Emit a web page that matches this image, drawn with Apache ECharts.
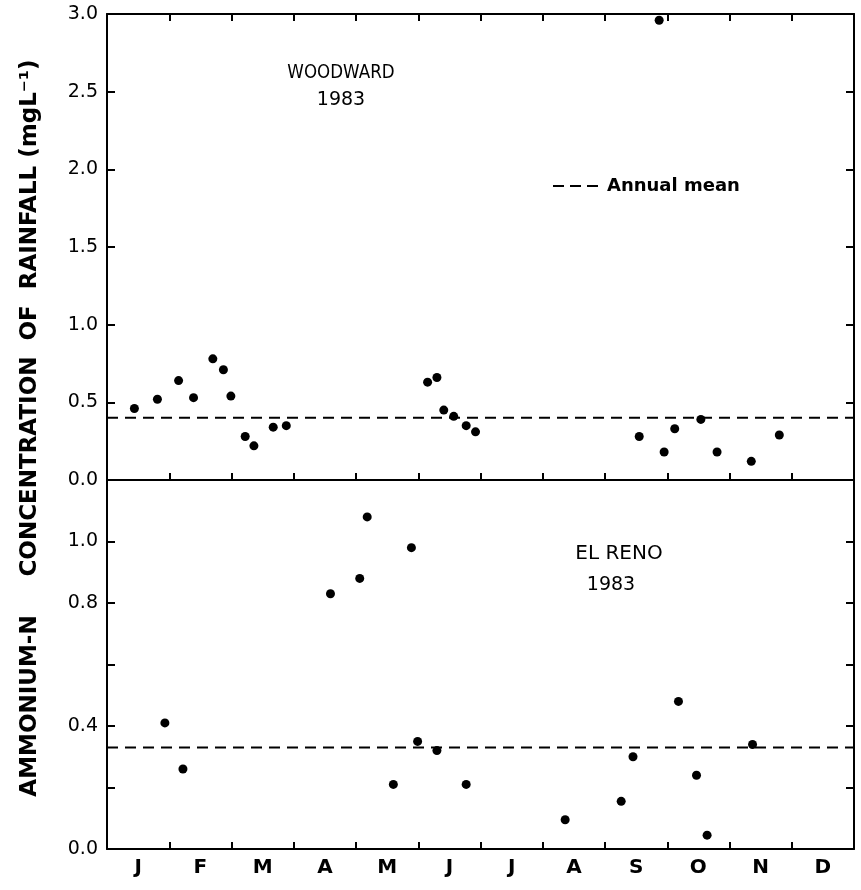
<!DOCTYPE html>
<html>
<head>
<meta charset="utf-8">
<script src="https://cdn.jsdelivr.net/npm/echarts@6/dist/echarts.min.js"></script>
<style>html,body{margin:0;padding:0;background:#fff}#c{width:861px;height:890px}</style>
</head>
<body>
<div id="c"></div>
<script>
// Month labels (x axis)
var months = ['J','F','M','A','M','J','J','A','S','O','N','D'];

// Woodward 1983 (x in months from Jan 1, y in mg/L)
var woodwardX = [0.44,0.81,1.15,1.39,1.70,1.87,1.99,2.22,2.36,2.67,2.88,5.15,5.30,5.41,5.57,5.77,5.92,8.55,8.87,8.95,9.12,9.54,9.80,10.35,10.80];
var woodwardY = [0.46,0.52,0.64,0.53,0.78,0.71,0.54,0.28,0.22,0.34,0.35,0.63,0.66,0.45,0.41,0.35,0.31,0.28,2.96,0.18,0.33,0.39,0.18,0.12,0.29];
var woodwardMean = 0.40;

// El Reno 1983
var elRenoX = [0.93,1.22,3.59,4.06,4.18,4.60,4.89,4.99,5.30,5.77,7.36,8.26,8.45,9.18,9.47,9.64,10.37];
var elRenoY = [0.41,0.26,0.83,0.88,1.08,0.21,0.98,0.35,0.32,0.21,0.095,0.155,0.30,0.48,0.24,0.045,0.34];
var elRenoMean = 0.33;

// Tick labels
var topTicks = ['0.0','0.5','1.0','1.5','2.0','2.5','3.0'];
var bottomTicks = {'0':'0.0','0.4':'0.4','0.8':'0.8','1':'1.0'};

function pairs(xs, ys){ return xs.map(function(x,i){ return [x, ys[i]]; }); }

var FONT = 'DejaVu Sans';
var lineStyle = {color:'#000', width:2};

function valueX(grid, pos, showTicks){
  return {type:'value', gridIndex:grid, position:pos, min:0, max:12, interval:1,
    axisLine:{show:true, onZero:false, lineStyle:lineStyle},
    axisTick:{show:showTicks, inside:true, length:7, lineStyle:lineStyle},
    axisLabel:{show:false}, splitLine:{show:false}};
}
function valueY(grid, pos, max, interval, labels){
  return {type:'value', gridIndex:grid, position:pos, min:0, max:max, interval:interval,
    axisLine:{show:true, onZero:false, lineStyle:lineStyle},
    axisTick:{show:true, inside:true, length:8, lineStyle:lineStyle},
    axisLabel:labels ? {show:true, margin:9, color:'#000', fontFamily:FONT, fontSize:19, formatter:labels}
                     : {show:false},
    splitLine:{show:false}};
}

var chart = echarts.init(document.getElementById('c'), null, {renderer:'canvas'});
chart.setOption({
  animation:false,
  backgroundColor:'#fff',
  grid:[
    {left:107, right:7, top:14, height:466},
    {left:107, right:7, top:480, height:369}
  ],
  xAxis:[
    valueX(0,'bottom',true),
    valueX(0,'top',true),
    valueX(1,'bottom',true),
    {type:'category', gridIndex:1, position:'bottom', data:months, boundaryGap:true,
      axisLine:{show:false}, axisTick:{show:false},
      axisLabel:{show:true, margin:9, color:'#000', fontFamily:FONT, fontSize:20, fontWeight:'bold'}}
  ],
  yAxis:[
    valueY(0,'left',3,0.5,function(v){ return topTicks[Math.round(v/0.5)]; }),
    valueY(0,'right',3,0.5,null),
    valueY(1,'left',1.2,0.2,function(v){ var k = String(Math.round(v*10)/10); return bottomTicks[k] || ''; }),
    valueY(1,'right',1.2,0.2,null)
  ],
  series:[
    {type:'scatter', name:'Woodward', xAxisIndex:0, yAxisIndex:0, data:pairs(woodwardX, woodwardY),
      symbol:'circle', symbolSize:9, itemStyle:{color:'#000', opacity:1}},
    {type:'line', name:'Annual mean', xAxisIndex:0, yAxisIndex:0, data:[[0,woodwardMean],[12,woodwardMean]],
      symbol:'none', lineStyle:{color:'#000', width:2, type:[11,7]}, itemStyle:{color:'#000'}},
    {type:'scatter', name:'El Reno', xAxisIndex:2, yAxisIndex:2, data:pairs(elRenoX, elRenoY),
      symbol:'circle', symbolSize:9, itemStyle:{color:'#000', opacity:1}},
    {type:'line', name:'Annual mean', xAxisIndex:2, yAxisIndex:2, data:[[0,elRenoMean],[12,elRenoMean]],
      symbol:'none', lineStyle:{color:'#000', width:2, type:[11,7]}, itemStyle:{color:'#000'}}
  ],
  graphic:[
    {type:'text', x:341, y:73, scaleX:0.88, style:{text:'WOODWARD', fill:'#000', font:'19px "DejaVu Sans"', align:'center', verticalAlign:'middle'}},
    {type:'text', x:341, y:100, style:{text:'1983', fill:'#000', font:'19px "DejaVu Sans"', align:'center', verticalAlign:'middle'}},
    {type:'text', x:619, y:554, style:{text:'EL RENO', fill:'#000', font:'20px "DejaVu Sans"', align:'center', verticalAlign:'middle'}},
    {type:'text', x:611, y:585, style:{text:'1983', fill:'#000', font:'19px "DejaVu Sans"', align:'center', verticalAlign:'middle'}},
    {type:'line', shape:{x1:553, y1:186, x2:600, y2:186}, style:{stroke:'#000', lineWidth:2, lineDash:[11,6]}},
    {type:'text', x:607, y:186, style:{text:'Annual mean', fill:'#000', font:'bold 18px "DejaVu Sans"', align:'left', verticalAlign:'middle'}},
    {type:'text', x:30, y:318, rotation:Math.PI/2, style:{text:'CONCENTRATION  OF  RAINFALL (mgL\u207B\u00B9)', fill:'#000', font:'bold 23px "DejaVu Sans"', align:'center', verticalAlign:'middle'}},
    {type:'text', x:30, y:706, rotation:Math.PI/2, style:{text:'AMMONIUM-N', fill:'#000', font:'bold 23px "DejaVu Sans"', align:'center', verticalAlign:'middle'}}
  ]
});
</script>
</body>
</html>
